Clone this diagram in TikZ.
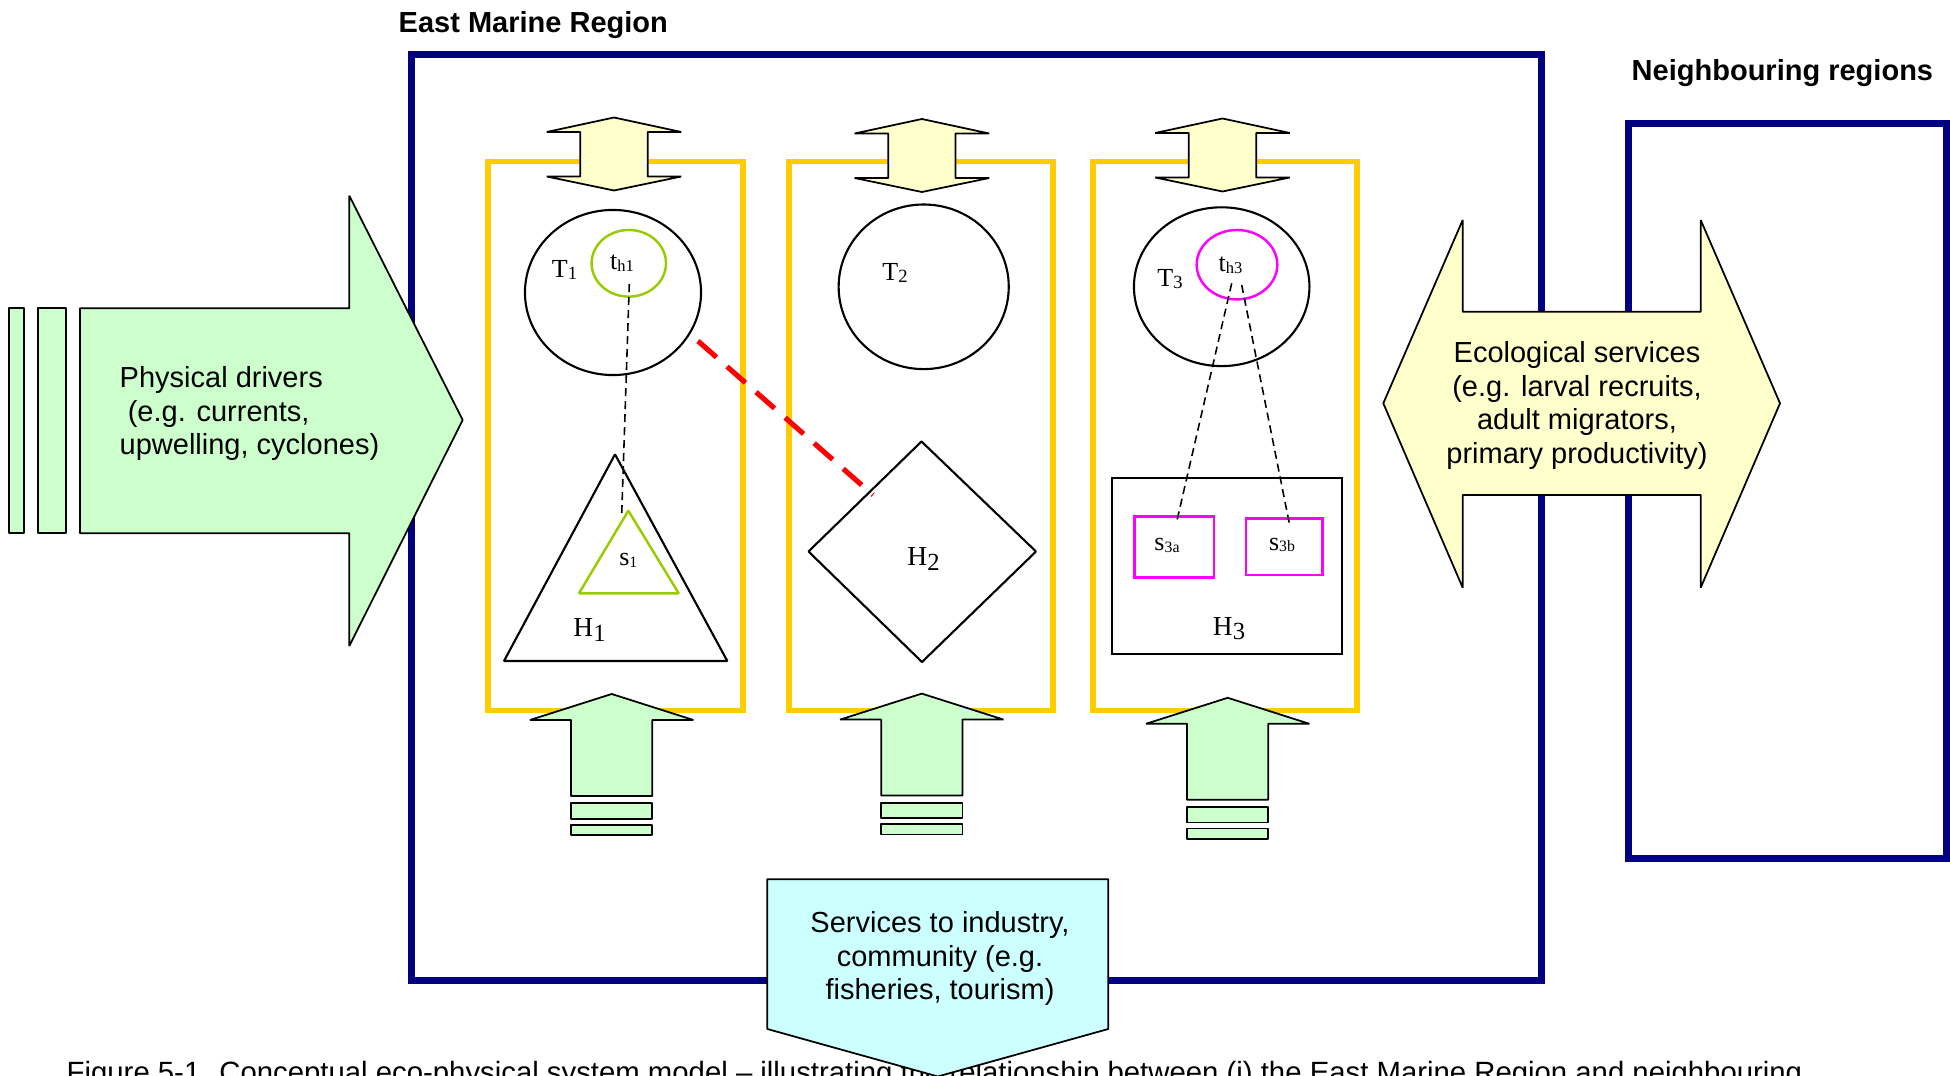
\documentclass[tikz,border=0pt]{standalone}
\usepackage{fontspec}
\setmainfont{Liberation Sans}
\newfontfamily\labelserif{Liberation Serif}
\usetikzlibrary{shapes.geometric}

\definecolor{regionblue}{HTML}{000080}
\definecolor{cellyellow}{HTML}{FFCC00}
\definecolor{paleyellow}{HTML}{FFFFCC}
\definecolor{palegreen}{HTML}{CCFFCC}
\definecolor{palecyan}{HTML}{CCFFFF}
\definecolor{habgreen}{HTML}{99CC00}
\definecolor{habmagenta}{HTML}{FF00FF}
\definecolor{linkred}{HTML}{FF0000}

% lowered index text: size, text, drop
\newcommand\lsub[3]{\raisebox{-#3}{\fontsize{#1}{#1}\selectfont #2}}

\begin{document}
\begin{tikzpicture}[x=0.01cm, y=-0.01cm,
  shapeline/.style={draw=black, line width=0.5pt, line join=bevel},
  regionbox/.style={draw=regionblue, line width=2pt, inner sep=0pt, outer sep=0pt},
  cellbox/.style={draw=cellyellow, line width=1.5pt, inner sep=0pt, outer sep=0pt},
  taxon/.style={ellipse, draw=black, line width=0.6pt, inner sep=0pt, outer sep=0pt},
  habbox/.style={draw=black, line width=0.6pt, inner sep=0pt, outer sep=0pt},
  subbox/.style={draw=habmagenta, line width=0.7pt, inner sep=0pt, outer sep=0pt},
  linkline/.style={draw=black, line width=0.45pt, dash pattern=on 2.3pt off 1.4pt},
  redlink/.style={draw=linkred, line width=1.45pt, dash pattern=on 7pt off 4pt},
  maintext/.style={font=\fontsize{8.25pt}{9.55pt}\selectfont, inner sep=0pt},
  captiontext/.style={font=\fontsize{8.34pt}{9.55pt}\selectfont, inner sep=0pt},
  titletext/.style={font=\bfseries\fontsize{8.25pt}{9.55pt}\selectfont, inner sep=0pt},
  serifbig/.style={font=\labelserif\fontsize{7.8pt}{8pt}\selectfont, inner sep=0pt},
  serifmid/.style={font=\labelserif\fontsize{7.4pt}{8pt}\selectfont, inner sep=0pt},
  pics/twoway/.style={code={
    \draw[shapeline, fill=paleyellow] (0,0) -- (67.3,14.5) -- (33.7,14.5) -- (33.7,59)
      -- (67.3,59) -- (0,73) -- (-67.3,59) -- (-33.7,59) -- (-33.7,14.5) -- (-67.3,14.5) -- cycle;
  }},
  pics/inflow/.style={code={
    \draw[shapeline, fill=palegreen] (0,0) -- (81.7,26) -- (40.6,26) -- (40.6,102)
      -- (-40.6,102) -- (-40.6,26) -- (-81.7,26) -- cycle;
    \draw[shapeline, fill=palegreen] (-40.6,109.3) rectangle (40.6,124.7);
    \draw[shapeline, fill=palegreen] (-40.6,130.7) rectangle (40.6,141);
  }}
]
\useasboundingbox (0,0) rectangle (1950,1076);
\clip (0,0) rectangle (1950,1076);

% caption line along the lower edge
\node[captiontext, anchor=base west] (caption) at (66,1082)
  {Figure 5-1. Conceptual eco-physical system model – illustrating the relationship between (i) the East Marine Region and neighbouring};

% headings
\node[titletext, anchor=base west] (emrtitle) at (398,33) {East Marine Region};
\node[titletext, anchor=base west] (nbtitle) at (1631,81) {Neighbouring regions};

% regions
\node[regionbox, minimum width=11.29cm, minimum height=9.25cm] (emr) at (976.5,517.5) {};
\node[regionbox, minimum width=3.17cm, minimum height=7.34cm] (nbr) at (1787.5,491) {};

% habitat cells
\node[cellbox, minimum width=2.55cm, minimum height=5.485cm] (cell1) at (615.5,435.75) {};
\node[cellbox, minimum width=2.64cm, minimum height=5.485cm] (cell2) at (921,435.75) {};
\node[cellbox, minimum width=2.64cm, minimum height=5.485cm] (cell3) at (1225,435.75) {};

% taxa
\node[taxon, minimum width=1.76cm, minimum height=1.65cm] (T1) at (613,292.5) {};
\node[taxon, draw=habgreen, line width=0.7pt, minimum width=0.744cm, minimum height=0.666cm] (th1) at (628.8,263.3) {};
\node[taxon, minimum width=1.70cm, minimum height=1.645cm] (T2) at (923.7,286.8) {};
\node[taxon, minimum width=1.754cm, minimum height=1.587cm] (T3) at (1221.7,286.7) {};
\node[taxon, draw=habmagenta, line width=0.7pt, minimum width=0.806cm, minimum height=0.694cm] (th3) at (1237,264.7) {};

% habitats
\coordinate (h1top) at (615,454.3);
\coordinate (h1right) at (727.3,661);
\coordinate (h1left) at (504,661);
\draw[shapeline, line width=0.6pt] (h1top) -- (h1right) -- (h1left) -- cycle;
\coordinate (s1apex) at (628.3,510.7);
\coordinate (s1right) at (678.7,593.3);
\coordinate (s1left) at (579,593.3);
\draw[draw=habgreen, line width=0.7pt, line join=bevel] (s1apex) -- (s1right) -- (s1left) -- cycle;

\coordinate (h2top) at (921.5,441.5);
\coordinate (h2right) at (1036,551.5);
\coordinate (h2bottom) at (922,662);
\coordinate (h2left) at (808.5,551.5);
\draw[shapeline, line width=0.6pt] (h2top) -- (h2right) -- (h2bottom) -- (h2left) -- cycle;

\node[habbox, minimum width=2.303cm, minimum height=1.757cm] (H3) at (1227.15,566.15) {};
\node[subbox, minimum width=0.797cm, minimum height=0.606cm] (s3a) at (1174.15,547) {};
\node[subbox, minimum width=0.767cm, minimum height=0.563cm] (s3b) at (1284.35,546.85) {};

% labels
\node[serifmid] (T1lab) at (564.5,270) {T\lsub{5.3pt}{1}{0.7pt}};
\node[serifmid] (th1lab) at (622,263) {t\lsub{4.7pt}{h1}{0.5pt}};
\node[serifmid] (T2lab) at (895,273) {T\lsub{5.3pt}{2}{0.7pt}};
\node[serifmid] (T3lab) at (1170,279) {T\lsub{5.3pt}{3}{0.7pt}};
\node[serifmid] (th3lab) at (1230.5,265) {t\lsub{4.7pt}{h3}{0.5pt}};
\node[serifmid] (s1lab) at (628.3,560.5) {s\lsub{4.5pt}{1}{0.5pt}};
\node[serifbig] (H1lab) at (589.5,630) {H\lsub{7pt}{1}{1.2pt}};
\node[serifbig] (H2lab) at (923.5,559) {H\lsub{7pt}{2}{1.2pt}};
\node[serifmid] (s3alab) at (1167,545.3) {s\lsub{4.5pt}{3a}{0.5pt}};
\node[serifmid] (s3blab) at (1282,545) {s\lsub{4.5pt}{3b}{0.5pt}};
\node[serifbig] (H3lab) at (1229,628.7) {H\lsub{7pt}{3}{1.2pt}};

% taxon-habitat links
\coordinate (th1foot) at (629.3,284);
\coordinate (s1tip) at (621.7,515);
\draw[linkline] (th1foot) -- (s1tip);
\coordinate (th3footL) at (1231.7,283.3);
\coordinate (s3atop) at (1176.7,521.7);
\coordinate (th3footR) at (1241.7,285);
\coordinate (s3btop) at (1289.3,523.3);
\draw[linkline] (th3footL) -- (s3atop);
\draw[linkline] (th3footR) -- (s3btop);

% cross-cell link
\coordinate (t1edge) at (698,341);
\coordinate (h2edge) at (873,495);
\draw[redlink] (t1edge) -- (h2edge);

% exchange arrows at the top of each cell
\pic (ex1) at (614,117.5) {twoway};
\pic (ex2) at (921.9,119) {twoway};
\pic (ex3) at (1222.5,118.5) {twoway};

% inflow arrows at the foot of each cell
\pic (in1) at (611.7,694) {inflow};
\pic (in2) at (921.8,693.6) {inflow};
\pic (in3) at (1227.7,697.8) {inflow};

% physical drivers
\draw[shapeline, fill=palegreen] (9,308.3) rectangle (23.7,533.3);
\draw[shapeline, fill=palegreen] (37.7,308.3) rectangle (66,533.3);
\draw[shapeline, fill=palegreen] (80,308.3) -- (349.3,308.3) -- (349.3,195.7) -- (462.7,420)
  -- (349.3,646) -- (349.3,533.3) -- (80,533.3) -- cycle;
\node[maintext, anchor=north west, align=left] (physlabel) at (119,365.9)
  {Physical drivers\\\hspace*{2.3pt}(e.g. currents,\\upwelling, cyclones)};

% ecological services
\draw[shapeline, fill=paleyellow] (1383.3,403.3) -- (1462.7,220) -- (1462.7,311.7) -- (1700.7,311.7)
  -- (1700.7,220) -- (1780,403.3) -- (1700.7,587.7) -- (1700.7,495) -- (1462.7,495)
  -- (1462.7,587.7) -- cycle;
\node[maintext, anchor=north, align=center] (ecolabel) at (1577,340.9)
  {Ecological services\\(e.g. larval recruits,\\adult migrators,\\primary productivity)};

% services to people
\draw[shapeline, fill=palecyan] (767.3,879.3) -- (1108.3,879.3) -- (1108.3,1029) -- (937.8,1076.5)
  -- (767.3,1029) -- cycle;
\node[maintext, anchor=north, align=center] (servlabel) at (940,910.9)
  {Services to industry,\\community (e.g.\\fisheries, tourism)};
\end{tikzpicture}
\end{document}
